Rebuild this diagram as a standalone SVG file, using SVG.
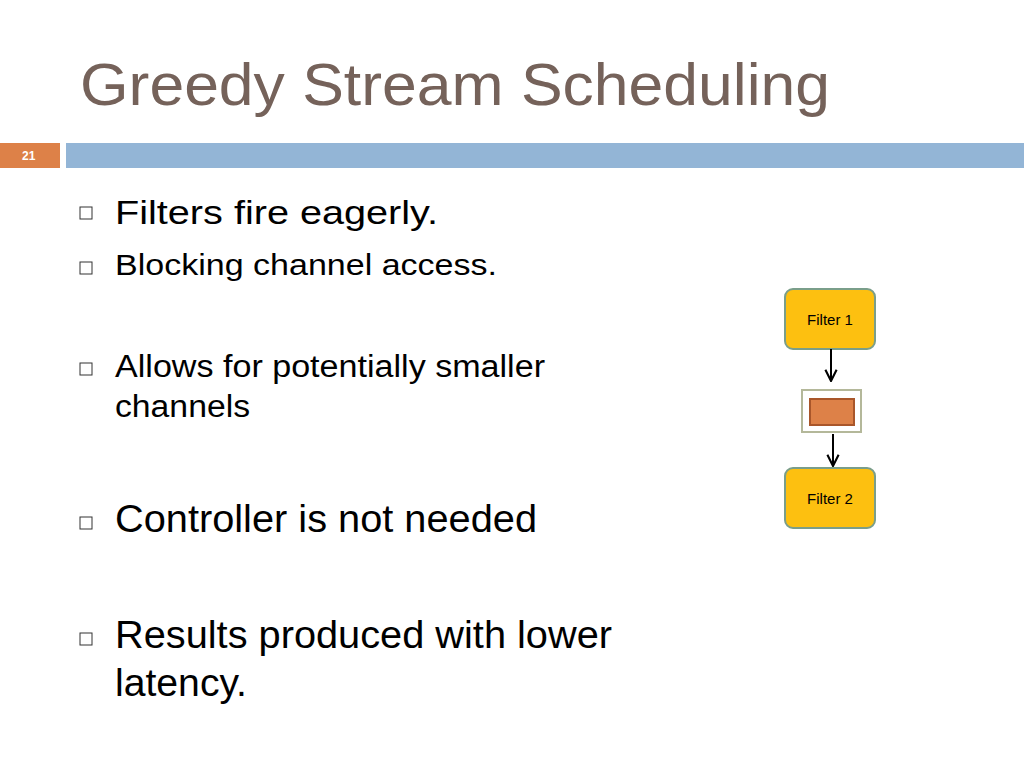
<svg xmlns="http://www.w3.org/2000/svg" width="1024" height="768" viewBox="0 0 1024 768">
<defs>
<style>
.t{font-family:"Liberation Sans",Arial,sans-serif;fill:#000}
.b{fill:#fff;stroke:#333;stroke-width:1}
.f{fill:#fdc010;stroke:#7a9e8a;stroke-width:2}
</style>
<marker id="a" viewBox="0 0 10 10" refX="9" refY="5" markerWidth="7" markerHeight="7" orient="auto"><path d="M1,1 L9,5 L1,9" fill="none" stroke="#000" stroke-width="1.5"/></marker>
</defs>
<rect width="1024" height="768" fill="#fff"/>
<text x="80" y="105" font-family="Liberation Sans,Arial,sans-serif" font-size="60" fill="#75625a" textLength="750" lengthAdjust="spacingAndGlyphs">Greedy Stream Scheduling</text>
<rect x="0" y="143" width="60" height="25" fill="#dd8148"/>
<text x="22" y="160" font-family="Liberation Sans,Arial,sans-serif" font-size="12" font-weight="bold" fill="#fff">21</text>
<rect x="66" y="143" width="958" height="25" fill="#93b5d6"/>
<rect class="b" x="80" y="207" width="12" height="12"/>
<text class="t" x="115" y="224" font-size="34" textLength="323" lengthAdjust="spacingAndGlyphs">Filters fire eagerly.</text>
<rect class="b" x="80" y="262" width="12" height="12"/>
<text class="t" x="115" y="275" font-size="29" textLength="382" lengthAdjust="spacingAndGlyphs">Blocking channel access.</text>
<rect class="b" x="80" y="363" width="12" height="12"/>
<text class="t" x="115" y="377" font-size="31" textLength="430" lengthAdjust="spacingAndGlyphs">Allows for potentially smaller</text>
<text class="t" x="115" y="417" font-size="31" textLength="135" lengthAdjust="spacingAndGlyphs">channels</text>
<rect class="b" x="80" y="517" width="12" height="12"/>
<text class="t" x="115" y="532" font-size="38" textLength="422" lengthAdjust="spacingAndGlyphs">Controller is not needed</text>
<rect class="b" x="80" y="633" width="12" height="12"/>
<text class="t" x="115" y="648" font-size="38" textLength="497" lengthAdjust="spacingAndGlyphs">Results produced with lower</text>
<text class="t" x="115" y="696" font-size="38" textLength="132" lengthAdjust="spacingAndGlyphs">latency.</text>
<g id="filter1"><rect class="f" x="785" y="289" width="90" height="60" rx="8"/><text class="t" x="830" y="325" font-size="15" text-anchor="middle">Filter 1</text></g>
<g id="channel"><rect x="802" y="390" width="59" height="42" fill="#fff" stroke="#b4b89a" stroke-width="2"/><rect x="810" y="399" width="44" height="26" fill="#dd8148" stroke="#a9562a" stroke-width="2"/></g>
<g id="filter2"><rect class="f" x="785" y="468" width="90" height="60" rx="8"/><text class="t" x="830" y="504" font-size="15" text-anchor="middle">Filter 2</text></g>
<g id="connectors" stroke="#000" stroke-width="2">
<line x1="831" y1="349" x2="831" y2="381" marker-end="url(#a)"/>
<line x1="833" y1="434" x2="833" y2="466" marker-end="url(#a)"/>
</g>
</svg>
